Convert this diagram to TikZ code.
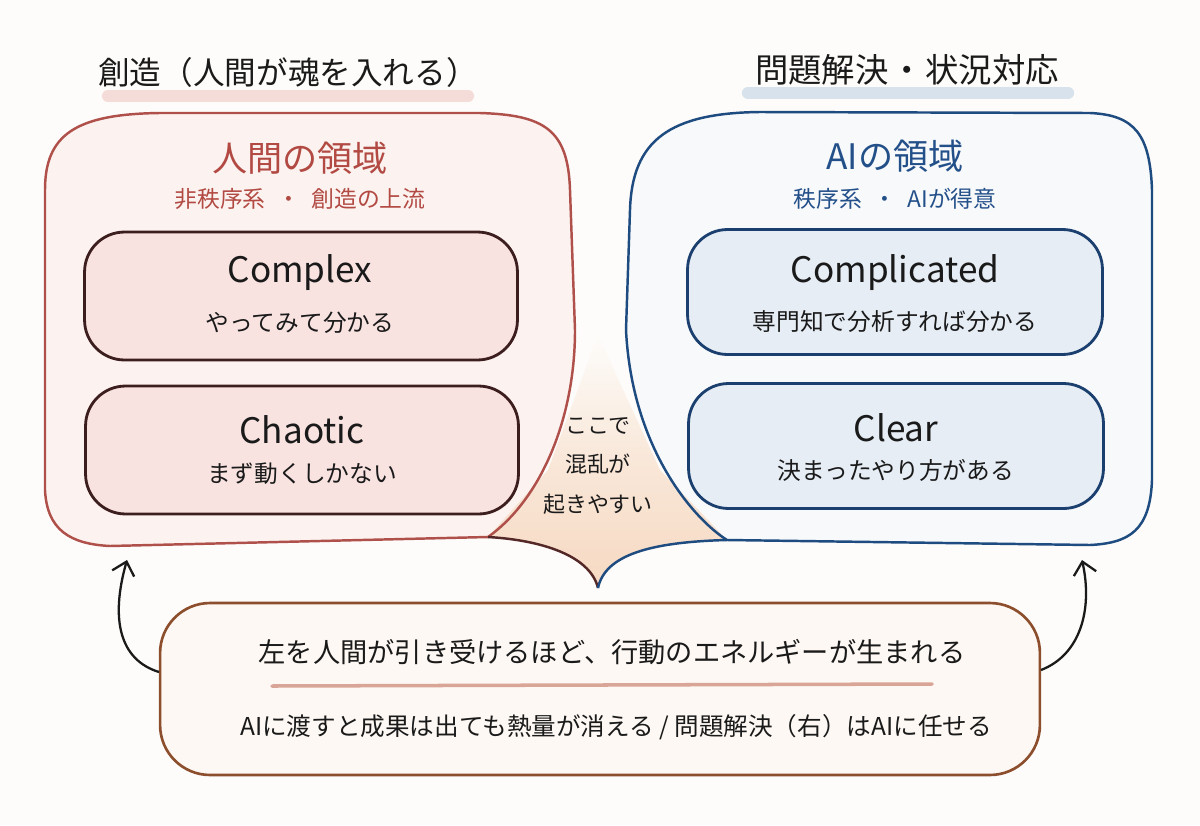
\documentclass[tikz,border=0pt]{standalone}
\usepackage{fontspec}
\setmainfont{Noto Sans CJK JP}
\usetikzlibrary{arrows.meta,calc}
\definecolor{bg}{HTML}{FDFCFA}
\definecolor{redt}{HTML}{B24A43}
\definecolor{bluet}{HTML}{24508A}
\definecolor{leftstroke}{HTML}{B0504B}
\definecolor{rightstroke}{HTML}{1E4B80}
\definecolor{leftin}{HTML}{3D1E1E}
\definecolor{rightin}{HTML}{1B3F6E}
\definecolor{botstroke}{HTML}{8C4E2C}
\definecolor{ink}{HTML}{1A1A1A}
\definecolor{peach}{HTML}{F6D9C2}
\definecolor{leftfill}{HTML}{FCF3F0}
\definecolor{rightfill}{HTML}{F7F9FB}
\definecolor{pinkfill}{HTML}{F8E3E1}
\definecolor{bluefill}{HTML}{E6EDF5}
\definecolor{botfill}{HTML}{FDF8F3}
\definecolor{pinkband}{HTML}{F4DAD6}
\definecolor{blueband}{HTML}{D3E0EC}
\definecolor{sepline}{HTML}{D9A596}
\tikzset{
  fs/.style={font=\fontsize{#1}{#1}\selectfont},
  lbox/.style={draw=leftin, fill=pinkfill, line width=1.6pt, rounded corners=0.8cm,
    minimum width=8.66cm, minimum height=2.56cm},
  rbox/.style={draw=rightin, fill=bluefill, line width=1.6pt, rounded corners=0.8cm,
    minimum width=8.3cm, minimum height=2.5cm},
  headtxt/.style={fs=18pt, text=ink},
  entxt/.style={fs=20pt, text=ink},
  subtxt/.style={fs=13.5pt, text=ink},
  arr/.style={draw=ink, line width=1.3pt, -{Straight Barb[length=7pt,width=13pt,line width=1.3pt]}},
}
\begin{document}
\begin{tikzpicture}[x=0.02cm,y=-0.02cm]
\useasboundingbox[fill=bg] (0,0) rectangle (1200,825);

% title bands
\draw[pinkband, line width=7pt, line cap=round, opacity=0.9] (108,96) -- (468,96);
\draw[blueband, line width=7pt, line cap=round, opacity=0.9] (748,93) -- (1068,93);
\node[headtxt] (tl) at (288,72) {創造（人間が魂を入れる）};
\node[headtxt, fs=19pt] (tr) at (907,70) {問題解決\hspace{0.05em}・\hspace{0.05em}状況対応};

% outer left box
\path[fill=leftfill] (45,190) .. controls (45,135) and (75,114) .. (160,113)
  -- (480,113) .. controls (545,115) and (568,130) .. (570,190)
  -- (575,330) .. controls (575,420) and (540,500) .. (488,537)
  -- (110,546) .. controls (70,544) and (47,530) .. (45,490) -- cycle;
% outer right box
\path[fill=rightfill] (630,210) .. controls (632,140) and (670,113) .. (760,112)
  -- (1090,113) .. controls (1135,115) and (1150,135) .. (1152,190)
  -- (1152,480) .. controls (1150,530) and (1130,543) .. (1090,545)
  -- (727,540) .. controls (695,520) and (632,450) .. (626,330)
  -- cycle;
% peach triangle
\shade[top color=bg, bottom color=peach, middle color=peach!60!bg]
  (598,335) -- (548,470) -- (488,537) .. controls (540,540) and (590,555) .. (598,588)
  .. controls (605,555) and (650,542) .. (727,540) -- (660,470) -- cycle;

\draw[leftstroke, line width=1.4pt] (45,190) .. controls (45,135) and (75,114) .. (160,113)
  -- (480,113) .. controls (545,115) and (568,130) .. (570,190)
  -- (575,330) .. controls (575,420) and (540,500) .. (488,537)
  -- (110,546) .. controls (70,544) and (47,530) .. (45,490) -- cycle;
\draw[rightstroke, line width=1.4pt] (630,210) .. controls (632,140) and (670,113) .. (760,112)
  -- (1090,113) .. controls (1135,115) and (1150,135) .. (1152,190)
  -- (1152,480) .. controls (1150,530) and (1130,543) .. (1090,545)
  -- (727,540) .. controls (695,520) and (632,450) .. (626,330)
  -- cycle;
% cusp
\draw[leftin!80!leftstroke, line width=1.4pt] (488,537) .. controls (540,540) and (590,555) .. (598,588);
\draw[rightstroke, line width=1.4pt] (598,588) .. controls (605,555) and (650,542) .. (727,540);

% region titles
\node[fs=20pt, text=redt] (lh) at (300,158) {人間の領域};
\node[fs=13pt, text=redt] (ls) at (300,199) {非秩序系\hspace{0.5em}・\hspace{0.5em}創造の上流};
\node[fs=20pt, text=bluet] (rh) at (895,156) {AIの領域};
\node[fs=13pt, text=bluet] (rs) at (895,199) {秩序系\hspace{0.5em}・\hspace{0.5em}AIが得意};

% inner boxes
\node[lbox] (complex) at (301,296) {};
\node[entxt] (complext) at (300,273) {Complex};
\node[subtxt] (complexs) at (300,323) {やってみて分かる};
\node[lbox] (chaotic) at (302,450) {};
\node[entxt] (chaotict) at (302,430) {Chaotic};
\node[subtxt] (chaotics) at (302,474) {まず動くしかない};
\node[rbox] (complicated) at (895,292) {};
\node[entxt] (complicatedt) at (895,273) {Complicated};
\node[subtxt] (complicateds) at (895,322) {専門知で分析すれば分かる};
\node[rbox] (clear) at (896,446) {};
\node[entxt] (cleart) at (896,428) {Clear};
\node[subtxt] (clears) at (896,470) {決まったやり方がある};

% middle text
\node[fs=12.5pt, text=ink, align=center, inner sep=0pt] (mid) at (598,466)
  {ここで\\[10pt]混乱が\\[10pt]起きやすい};

% bottom box
\node[draw=botstroke, fill=botfill, line width=1.5pt, rounded corners=1cm,
  minimum width=17.6cm, minimum height=3.44cm] (bottom) at (600,689) {};
\node[fs=15.5pt, text=ink] (b1) at (612,652) {左を人間が引き受けるほど、行動のエネルギーが生まれる};
\coordinate (sepa) at (272,686);
\coordinate (sepb) at (932,684);
\draw[sepline, line width=2pt, line cap=round] (sepa) -- (sepb);
\node[fs=14pt, text=ink] (b2) at (616,727) {AIに渡すと成果は出ても熱量が消える / 問題解決（右）はAIに任せる};

% arrows
\coordinate (las) at (159,672);
\coordinate (lat) at (127,560);
\coordinate (ras) at (1041,670);
\coordinate (rat) at (1082,560);
\draw[arr] (las) .. controls (120,660) and (110,620) .. (lat);
\draw[arr] (ras) .. controls (1080,655) and (1093,610) .. (rat);
\end{tikzpicture}
\end{document}
